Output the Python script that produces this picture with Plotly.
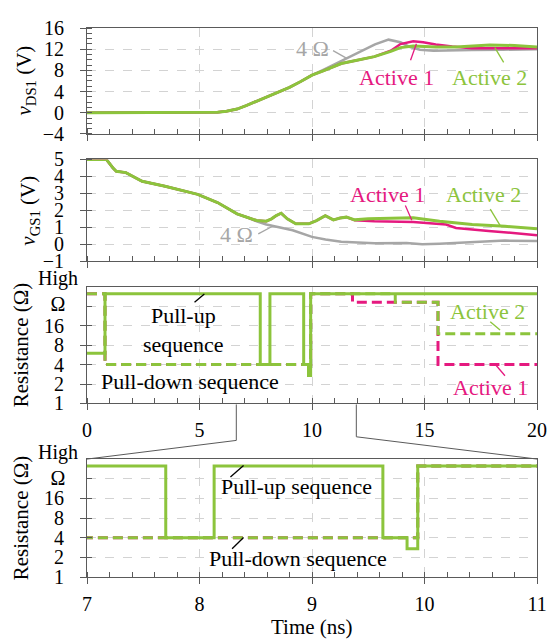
import plotly.graph_objects as go

# ---------------- data ----------------
# v_DS1 (V)
t_vds_4ohm = [0, 2, 4, 5.5, 5.8, 6.2, 6.67, 7.1, 7.54, 8.0, 8.41, 9.0, 9.5, 10.0, 10.5, 11.3, 12.0,
              12.8, 13.4, 13.93, 14.36, 14.8, 15.4, 16.2, 17.1, 18.5, 20.0]
v_vds_4ohm = [0, 0, 0, 0.05, 0.1, 0.3, 0.7, 1.4, 2.2, 3.0, 3.7, 4.8, 5.9, 7.1, 8.1, 9.8, 11.2,
              12.9, 13.8, 13.3, 12.4, 11.9, 11.7, 11.8, 11.85, 11.9, 12.0]
t_vds_act1 = [0, 2, 4, 5.5, 5.8, 6.2, 6.67, 7.1, 7.54, 8.0, 8.41, 9.0, 9.5, 10.0, 10.5, 11.3, 12.0,
              12.77, 13.5, 13.93, 14.5, 14.94, 15.5, 16.23, 17.1, 18.6, 20.0]
v_vds_act1 = [0, 0, 0, 0.05, 0.1, 0.3, 0.7, 1.4, 2.2, 3.0, 3.7, 4.8, 5.9, 7.1, 7.9, 9.3, 9.9,
              10.6, 11.7, 12.97, 13.5, 13.3, 12.9, 12.5, 12.2, 12.2, 12.2]
t_vds_act2 = [0, 2, 4, 5.5, 5.8, 6.2, 6.67, 7.1, 7.54, 8.0, 8.41, 9.0, 9.5, 10.0, 10.5, 11.3, 12.0,
              12.77, 13.5, 13.93, 14.5, 15.0, 15.5, 16.4, 17.9, 19.0, 20.0]
v_vds_act2 = [0, 0, 0, 0.05, 0.1, 0.3, 0.7, 1.4, 2.2, 3.0, 3.7, 4.8, 5.9, 7.1, 7.9, 9.3, 9.9,
              10.6, 11.6, 12.3, 12.6, 12.5, 12.4, 12.4, 12.8, 12.7, 12.4]

# v_GS1 (V)
t_vgs_4ohm = [0, 0.86, 1.15, 1.3, 1.73, 2.02, 2.45, 3.47, 4.92, 5.8, 6.67, 7.2, 7.54, 7.97, 8.41,
              9.14, 10.0, 10.6, 11.3, 12.77, 14.2, 14.9, 15.67, 17.1, 18.58, 20.0]
v_vgs_4ohm = [5, 5, 4.5, 4.3, 4.22, 4.0, 3.71, 3.42, 2.94, 2.46, 1.79, 1.55, 1.35, 1.17, 1.05,
              0.83, 0.44, 0.28, 0.15, 0.06, 0.08, 0.0, 0.03, 0.13, 0.22, 0.2]
t_vgs_act1 = [0, 0.86, 1.15, 1.3, 1.73, 2.02, 2.45, 3.47, 4.92, 5.8, 6.67, 7.54, 7.97, 8.2, 8.41,
              8.63, 8.9, 9.28, 9.86, 10.2, 10.59, 10.95, 11.25, 11.53, 11.9, 12.77, 14.5, 15.96,
              16.4, 17.85, 18.58, 20.0]
v_vgs_act1 = [5, 5, 4.5, 4.3, 4.22, 4.0, 3.71, 3.42, 2.94, 2.46, 1.79, 1.40, 1.36, 1.5, 1.69,
              1.83, 1.5, 1.21, 1.21, 1.4, 1.69, 1.44, 1.55, 1.6, 1.42, 1.36, 1.31, 1.17,
              0.96, 0.79, 0.72, 0.54]
t_vgs_act2 = [0, 0.86, 1.15, 1.3, 1.73, 2.02, 2.45, 3.47, 4.92, 5.8, 6.67, 7.54, 7.97, 8.2, 8.41,
              8.63, 8.9, 9.28, 9.86, 10.2, 10.59, 10.95, 11.25, 11.53, 11.9, 12.5, 13.49, 14.5,
              15.67, 17.12, 18.58, 20.0]
v_vgs_act2 = [5, 5, 4.5, 4.3, 4.22, 4.0, 3.71, 3.42, 2.94, 2.46, 1.79, 1.40, 1.36, 1.5, 1.69,
              1.83, 1.5, 1.21, 1.21, 1.4, 1.69, 1.44, 1.55, 1.6, 1.44, 1.5, 1.54, 1.56,
              1.36, 1.17, 1.06, 0.92]

# Resistance sequences (Ohm); "High" = 50
t_pullup = [0, 0.8, 7.70, 8.13, 9.63, 9.845, 9.94, 20]
r_pullup = [6, 50, 4, 50, 4, 2.7, 50, 50]
t_pulldown_act1 = [0, 0.8, 9.94, 11.8, 15.6, 20]
r_pulldown_act1 = [50, 4, 50, 37, 4, 4]
t_pulldown_act2 = [0, 0.8, 9.94, 13.7, 15.6, 20]
r_pulldown_act2 = [50, 4, 50, 37, 12, 12]

r_tickvals = [1, 2, 4, 8, 16]
r_ticktext = ["1", "2", "4", "8", "16"]
r_extra_grid = [32]

# tick positions (inside ticks, majors cross the axis line)
x_top_inner = list(range(0, 21))
x_zoom_inner = [7 + 0.2 * i for i in range(21)]
y_vds_inner = list(range(-4, 17))
y_vgs_inner = list(range(-1, 6))

# ---------------- styles ----------------
GREEN = "#8CC43C"
MAGENTA = "#E5197F"
GRAY = "#A6A6A6"
AX = "#5A5A5A"
GRID = "#D3D3D3"
FONT = "'Liberation Serif', 'Times New Roman', Times, serif"
FS = 20
AFS = 22

fig = go.Figure()

def add(x, y, color, width, xa, ya, dash=None, shape="linear"):
    fig.add_trace(go.Scatter(x=x, y=y, mode="lines", xaxis=xa, yaxis=ya,
                             line=dict(color=color, width=width, dash=dash, shape=shape),
                             showlegend=False, hoverinfo="skip"))

# panel 1
add(t_vds_4ohm, v_vds_4ohm, GRAY, 2.5, "x", "y")
add(t_vds_act1, v_vds_act1, MAGENTA, 2.5, "x", "y")
add(t_vds_act2, v_vds_act2, GREEN, 3, "x", "y")
# panel 2
add(t_vgs_4ohm, v_vgs_4ohm, GRAY, 2.5, "x2", "y2")
add(t_vgs_act1, v_vgs_act1, MAGENTA, 2.5, "x2", "y2")
add(t_vgs_act2, v_vgs_act2, GREEN, 3, "x2", "y2")
# panels 3 and 4
for xa, ya in (("x3", "y3"), ("x4", "y4")):
    add(t_pulldown_act1, r_pulldown_act1, MAGENTA, 3, xa, ya, dash="10px,5px", shape="hv")
    add(t_pulldown_act2, r_pulldown_act2, GREEN, 3, xa, ya, dash="10px,5px", shape="hv")
    add(t_pullup, r_pullup, GREEN, 3, xa, ya, shape="hv")

tickfont = dict(family=FONT, size=FS, color="black")

def inner(vals, grid=None):
    d = dict(tickvals=vals, ticks="inside", ticklen=5, tickcolor=AX, tickwidth=1, showgrid=False)
    if grid:
        d.update(showgrid=True, gridcolor=GRID, griddash="dash", gridwidth=1)
    return d

def xax(anchor, rng, dtick, tick0, ivals, labels):
    return dict(anchor=anchor, range=rng, dtick=dtick, tick0=tick0,
                showline=True, linecolor=AX, linewidth=1, mirror=True,
                ticks="outside", ticklen=6, tickcolor=AX, tickwidth=1,
                minor=inner(ivals),
                showgrid=True, gridcolor=GRID, griddash="dash", gridwidth=1,
                zeroline=False, showticklabels=labels, tickfont=tickfont,
                ticklabelstandoff=3)

def yax(domain, anchor, **kw):
    d = dict(domain=domain, anchor=anchor, showline=True, linecolor=AX, linewidth=1, mirror=True,
             ticks="outside", ticklen=6, tickcolor=AX, tickwidth=1,
             showgrid=True, gridcolor=GRID, griddash="dash", gridwidth=1,
             zeroline=False, tickfont=tickfont, ticklabelstandoff=12)
    d.update(kw)
    return d

# page body has an 8px margin: figure is 548x631 so it fits the 556x639 window
fig.update_layout(
    width=548, height=631,
    margin=dict(l=79, r=10, t=9, b=62),
    paper_bgcolor="white", plot_bgcolor="white",
    font=dict(family=FONT, size=FS, color="black"),
    xaxis=xax("y", [0, 20], 5, 0, x_top_inner, False),
    xaxis2=xax("y2", [0, 20], 5, 0, x_top_inner, False),
    xaxis3=xax("y3", [0, 20], 5, 0, x_top_inner, True),
    xaxis4=xax("y4", [7, 11], 1, 7, x_zoom_inner, True),
    yaxis=yax([0.807, 1.0], "x", range=[-4, 16], dtick=4, tick0=0, minor=inner(y_vds_inner)),
    yaxis2=yax([0.575, 0.7607], "x2", range=[-1, 5], dtick=1, minor=inner(y_vgs_inner)),
    yaxis3=yax([0.3161, 0.5286], "x3", type="log", range=[0, 1.80618],
               tickvals=r_tickvals, ticktext=r_ticktext,
               minor=inner(r_tickvals + r_extra_grid, grid=True)),
    yaxis4=yax([0.0, 0.2148], "x4", type="log", range=[0, 1.80618],
               tickvals=r_tickvals, ticktext=r_ticktext,
               minor=inner(r_tickvals + r_extra_grid, grid=True)),
)

ann = []
def txt(x, y, s, color="black", size=AFS, angle=0):
    ann.append(dict(x=x, y=y, xref="paper", yref="paper", text=s, showarrow=False,
                    font=dict(family=FONT, size=size, color=color), align="center",
                    xanchor="center", yanchor="middle", textangle=angle))

shapes = []
def seg(x0, y0, x1, y1, color="black", width=1.3):
    shapes.append(dict(type="line", xref="paper", yref="paper", x0=x0, y0=y0, x1=x1, y1=y1,
                       line=dict(color=color, width=width)))

# axis titles
txt(-0.137, 0.905, "<i>v</i><sub>DS1</sub> (V)", size=21, angle=-90)
txt(-0.128, 0.668, "<i>v</i><sub>GS1</sub> (V)", size=21, angle=-90)
txt(-0.146, 0.4225, "Resistance (Ω)", size=21, angle=-90)
txt(-0.146, 0.1074, "Resistance (Ω)", size=21, angle=-90)
txt(0.5, -0.091, "Time (ns)", size=21)

# High Ω labels
txt(-0.0654, 0.5205, "High<br>Ω", size=FS)
txt(-0.0654, 0.2045, "High<br>Ω", size=FS)

# panel 1 labels
txt(0.5011, 0.9625, "4 Ω", GRAY)
seg(0.5468, 0.9589, 0.5773, 0.9446, GRAY)
txt(0.6885, 0.9107, "Active 1", MAGENTA)
seg(0.7190, 0.9411, 0.7320, 0.9714, MAGENTA)
txt(0.8954, 0.9107, "Active 2", GREEN)
seg(0.9259, 0.9375, 0.9063, 0.9643, GREEN)
# panel 2 labels
txt(0.3333, 0.6232, "4 Ω", GRAY)
seg(0.3806, 0.6250, 0.4133, 0.6393, GRAY)
txt(0.6688, 0.6970, "Active 1", MAGENTA)
seg(0.7074, 0.6768, 0.7218, 0.6500, MAGENTA)
txt(0.8817, 0.6970, "Active 2", GREEN)
seg(0.8961, 0.6702, 0.9179, 0.6405, GREEN)
# panel 3 labels
txt(0.2135, 0.4500, "Pull-up<br>sequence")
seg(0.2390, 0.5005, 0.2608, 0.5155)
txt(0.2288, 0.3554, "Pull-down sequence")
txt(0.8889, 0.4827, "Active 2", GREEN)
seg(0.8961, 0.4648, 0.9179, 0.4500, GREEN)
txt(0.8961, 0.3459, "Active 1", MAGENTA)
seg(0.9070, 0.3875, 0.9288, 0.3666, MAGENTA)
# panel 4 labels
txt(0.4658, 0.1643, "Pull-up sequence")
seg(0.3187, 0.1821, 0.3479, 0.2030)
txt(0.4684, 0.0334, "Pull-down sequence")
seg(0.3224, 0.0513, 0.3479, 0.0720)

# zoom connector lines
seg(0.3318, 0.3143, 0.3318, 0.2488, AX, 1)
seg(0.3318, 0.2488, 0.0, 0.2148, AX, 1)
seg(0.5985, 0.3143, 0.5985, 0.2554, AX, 1)
seg(0.5985, 0.2554, 1.0, 0.2148, AX, 1)

fig.update_layout(annotations=ann, shapes=shapes)
fig.write_html("out.html")
